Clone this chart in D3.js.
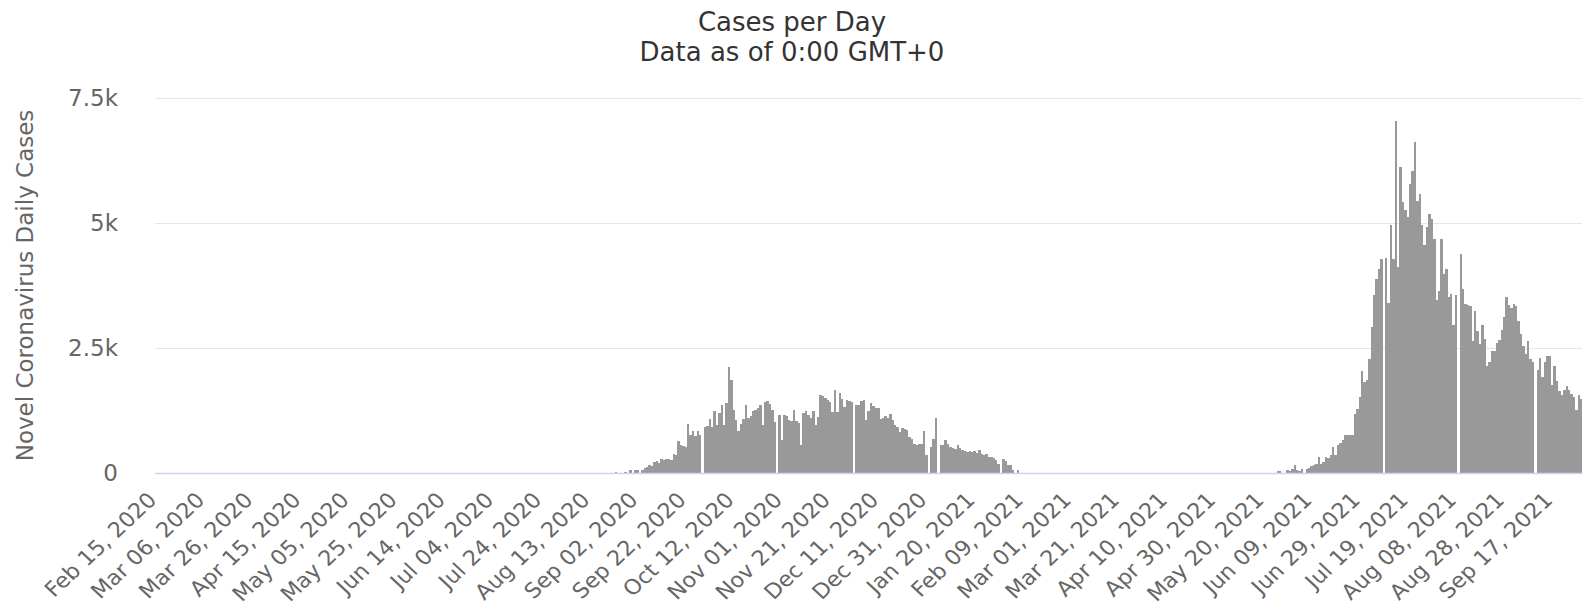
<!DOCTYPE html>
<html>
<head>
<meta charset="utf-8">
<script src="https://cdn.jsdelivr.net/npm/d3@7"></script>
<style>
    body { margin: 0; background: #fff; }
    svg text { font-family: "DejaVu Sans", Verdana, sans-serif; }
</style>
</head>
<body>
<div id="chart"></div>
<script>
// first day of the series, one value per day after it
const startDate = '2020-02-15';

// daily cases, one row per 20 days (each row starts on a labelled date)
const dailyCases = [
    0,0,0,0,0,0,0,0,0,0,0,0,0,0,0,0,0,0,0,0,            // Feb 15, 2020
    0,0,0,0,0,0,0,0,0,0,0,0,0,0,0,0,0,0,0,0,            // Mar 06
    0,0,0,0,0,0,0,0,0,0,0,0,0,0,0,0,0,0,0,0,            // Mar 26
    0,0,0,0,0,0,0,0,0,0,0,0,0,0,0,0,0,0,0,0,            // Apr 15
    0,0,0,0,0,0,0,0,0,0,0,0,0,0,0,0,0,0,0,0,            // May 05
    0,0,0,0,0,0,0,0,0,0,0,0,0,0,0,0,0,0,0,0,            // May 25
    0,0,0,0,0,0,0,0,0,0,0,0,0,0,0,0,0,0,0,0,            // Jun 14
    0,0,0,0,0,0,0,0,0,0,0,0,0,0,0,0,0,0,0,0,            // Jul 04
    0,0,0,0,0,0,0,0,0,0,0,0,0,0,0,0,0,0,0,0,            // Jul 24
    0,0,0,0,0,0,0,0,0,0,0,30,0,0,0,30,10,70,10,60,      // Aug 13
    70,10,60,110,130,160,140,230,240,210,280,260,280,290,260,390,360,640,560,550,          // Sep 02
    530,990,760,840,740,840,770,0,930,940,1090,930,1240,970,1210,1360,960,1410,2130,1870,  // Sep 22
    1270,1070,840,990,1090,1360,1110,1140,1250,1260,1310,1360,970,1430,1450,1380,1260,1030,0,1160, // Oct 12
    660,1160,1140,1070,1040,1270,1050,1010,570,1210,1250,1160,1110,1240,970,1130,1560,1540,1510,1460, // Nov 01
    1430,1230,1670,1230,1610,1490,1330,1470,1450,1430,0,1360,1360,1440,1470,1070,1240,1410,1340,1310, // Nov 21
    1310,1090,1110,1140,1110,1190,1060,960,930,830,910,880,870,730,690,590,560,590,580,840,          // Dec 11
    360,0,530,690,1110,0,560,560,670,590,530,510,490,560,510,470,450,430,450,430,                    // Dec 31
    440,410,470,380,360,390,330,330,310,260,190,0,290,250,160,160,70,0,70,0,                         // Jan 20, 2021
    0,0,0,0,0,0,0,0,0,0,0,0,0,0,0,0,0,0,0,0,            // Feb 09
    0,0,0,0,0,0,0,0,0,0,0,0,0,0,0,0,0,0,0,0,            // Mar 01
    0,0,0,0,0,0,0,0,0,0,0,0,0,0,0,0,0,0,0,0,            // Mar 21
    0,0,0,0,0,0,0,0,0,0,0,0,0,0,0,0,0,0,0,0,            // Apr 10
    0,0,0,0,0,0,0,0,0,0,0,0,0,0,0,0,0,0,0,0,            // Apr 30
    0,0,0,0,0,0,40,40,0,0,60,40,90,160,60,40,80,0,80,110,                                            // May 20
    140,160,190,330,190,230,330,310,360,530,360,560,610,660,770,760,760,760,1190,1290,               // Jun 09
    1530,2040,1830,1860,2280,2930,3560,3890,4090,4280,0,4310,3410,4960,4290,7040,4130,6130,5430,5260, // Jun 29
    5130,5790,6040,6630,5440,5590,4960,4570,4930,5190,5080,4680,3460,3640,4680,3990,4080,3530,3590,2970, // Jul 19
    3560,0,4390,3680,3390,3370,3350,2640,3240,2840,2590,2960,2680,2150,2230,2440,2440,2610,2660,2860, // Aug 08
    3130,3530,3370,3310,3390,3350,3040,2790,2540,2390,2640,2280,2230,0,2060,2310,1930,2230,2350,2350, // Aug 28
    1770,2150,1840,1640,1570,1660,1750,1660,1590,1530,1260,1570,1490,1460                           // Sep 17
];

const yTicks = [0, 2500, 5000, 7500];
const tickEvery = 20;

const width = 1582;
const height = 611;
const plotLeft = 155;
const plotTop = 98;
const plotBottom = 473;
const step = 2.407;

const parseDate = d3.timeParse('%Y-%m-%d');
const fmtDate = d3.timeFormat('%b %d, %Y');
const day0 = parseDate(startDate);
const dates = dailyCases.map((v, i) => d3.timeDay.offset(day0, i));

const svg = d3.select('#chart')
    .append('svg')
    .attr('width', width)
    .attr('height', height)
    .style('background', '#fff');

const x = d3.scaleBand()
    .domain(dates)
    .range([plotLeft, plotLeft + step * dates.length])
    .padding(0);

const y = d3.scaleLinear()
    .domain([0, 7500])
    .range([plotBottom, plotTop]);

// grid lines
svg.append('g')
    .attr('transform', `translate(${plotLeft},0)`)
    .call(d3.axisLeft(y).tickValues(yTicks).tickSize(-(width - plotLeft)).tickFormat(''))
    .call(g => g.select('.domain').remove())
    .call(g => g.selectAll('line').attr('stroke', '#e6e6e6'));

// bars
svg.append('g')
    .selectAll('rect')
    .data(dailyCases)
    .enter()
    .append('rect')
    .attr('x', (d, i) => x(dates[i]))
    .attr('y', d => y(d))
    .attr('width', x.bandwidth())
    .attr('height', d => plotBottom - y(d))
    .attr('fill', '#999999')
    .attr('shape-rendering', 'crispEdges');

// x axis line
svg.append('line')
    .attr('x1', plotLeft)
    .attr('x2', width)
    .attr('y1', plotBottom + 0.5)
    .attr('y2', plotBottom + 0.5)
    .attr('stroke', '#ccd6eb')
    .attr('stroke-width', 1.5);

// y axis labels
svg.append('g')
    .attr('transform', `translate(${plotLeft},0)`)
    .call(d3.axisLeft(y).tickValues(yTicks).tickSize(0).tickPadding(37)
        .tickFormat(v => v === 0 ? '0' : (v / 1000) + 'k'))
    .call(g => g.select('.domain').remove())
    .call(g => g.selectAll('text')
        .attr('fill', '#666666')
        .style('font-size', '23px'));

// x axis labels, every 20 days (slightly widened like the original)
svg.append('g')
    .attr('transform', `translate(0,${plotBottom})`)
    .call(d3.axisBottom(x).tickValues(dates.filter((d, i) => i % tickEvery === 0))
        .tickSize(0).tickFormat(fmtDate))
    .call(g => g.select('.domain').remove())
    .call(g => g.selectAll('text')
        .attr('fill', '#666666')
        .style('font-size', '21px')
        .attr('text-anchor', 'end')
        .attr('x', 0)
        .attr('y', 0)
        .attr('dy', '0.35em')
        .attr('transform', 'translate(-4,23) scale(1.07,1) rotate(-45)'));

// axis title
svg.append('text')
    .attr('transform', `translate(33,${(plotTop + plotBottom) / 2}) rotate(-90)`)
    .attr('text-anchor', 'middle')
    .attr('fill', '#666666')
    .style('font-size', '23px')
    .text('Novel Coronavirus Daily Cases');

// titles
svg.append('text')
    .attr('x', 792)
    .attr('y', 31)
    .attr('text-anchor', 'middle')
    .attr('fill', '#333333')
    .style('font-size', '26px')
    .text('Cases per Day');

svg.append('text')
    .attr('x', 792)
    .attr('y', 61)
    .attr('text-anchor', 'middle')
    .attr('fill', '#333333')
    .style('font-size', '26px')
    .text('Data as of 0:00 GMT+0');
</script>
</body>
</html>
